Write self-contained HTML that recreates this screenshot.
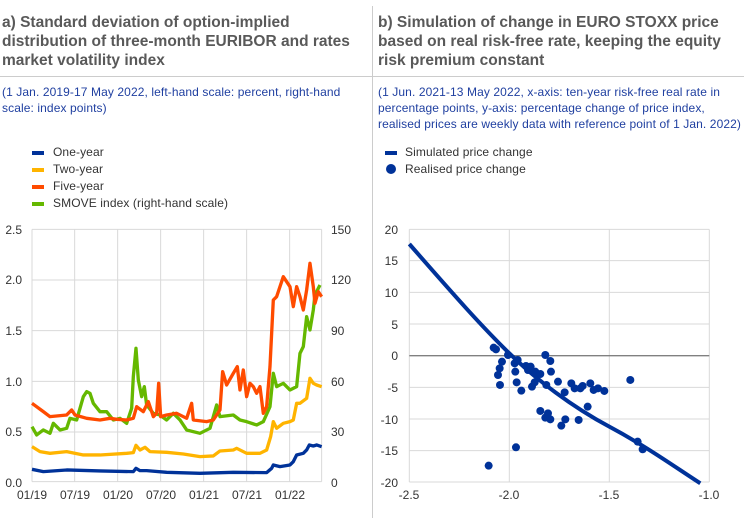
<!DOCTYPE html>
<html><head><meta charset="utf-8"><style>
body{margin:0;width:744px;height:518px;background:#fff;font-family:"Liberation Sans",sans-serif;overflow:hidden;position:relative}
.t{position:absolute;font-weight:bold;font-size:15.5px;line-height:19px;color:#595959}
.s{position:absolute;font-size:12px;line-height:16px;color:#1f3fa0;letter-spacing:0.1px;white-space:nowrap}
.lg{position:absolute;font-size:12px;color:#333;letter-spacing:0.1px}
.sw{position:absolute;width:12px;height:4px}
</style></head><body>
<div class="t" style="left:2px;top:13px;width:370px">a) Standard deviation of option-implied distribution of three-month EURIBOR and rates market volatility index</div>
<div class="t" style="left:378px;top:13px;width:366px">b) Simulation of change in EURO STOXX price based on real risk-free rate, keeping the equity risk premium constant</div>
<div style="position:absolute;left:0;top:76px;width:744px;height:1px;background:#ccc"></div>
<div style="position:absolute;left:372px;top:6px;width:1px;height:512px;background:#ccc"></div>
<div class="s" style="left:2px;top:84px">(1 Jan. 2019-17 May 2022, left-hand scale: percent, right-hand<br>scale: index points)</div>
<div class="s" style="left:378px;top:84px">(1 Jun. 2021-13 May 2022, x-axis: ten-year risk-free real rate in<br>percentage points, y-axis: percentage change of price index,<br>realised prices are weekly data with reference point of 1 Jan. 2022)</div>
<div class="sw" style="left:32px;top:151px;background:#003299"></div><div class="lg" style="left:53px;top:145px">One-year</div>
<div class="sw" style="left:32px;top:168px;background:#ffb400"></div><div class="lg" style="left:53px;top:162px">Two-year</div>
<div class="sw" style="left:32px;top:185px;background:#ff4b00"></div><div class="lg" style="left:53px;top:179px">Five-year</div>
<div class="sw" style="left:32px;top:202px;background:#65b800"></div><div class="lg" style="left:53px;top:196px">SMOVE index (right-hand scale)</div>
<div class="sw" style="left:385px;top:151px;background:#003299"></div><div class="lg" style="left:405px;top:145px">Simulated price change</div>
<div style="position:absolute;left:386px;top:164px;width:10px;height:10px;border-radius:50%;background:#003299"></div><div class="lg" style="left:405px;top:162px">Realised price change</div>
<svg width="744" height="518" style="position:absolute;left:0;top:0" font-family="Liberation Sans, sans-serif" font-size="12" fill="#333">
<g transform="translate(0,220) scale(0.3333)" fill="none">
<g stroke="#d9d9d9" stroke-width="3">
<path d="M96 28H965M96 180H965M96 332H965M96 484H965M96 636H965M96 785H965M96 28V785M224 28V785M353 28V785M482 28V785M611 28V785M740 28V785M869 28V785M965 28V785"/>
</g>
<g stroke-width="10" stroke-linejoin="round">
<polyline stroke="#65b800" points="96,620 110,645 130,630 150,640 160,610 180,630 200,625 210,595 230,600 250,530 260,515 270,520 280,550 300,575 320,575 340,600 360,595 380,610 395,565 400,470 408,385 415,480 425,530 433,500 440,555 460,580 480,585 500,600 520,580 540,600 560,630 600,640 630,625 650,555 660,590 700,585 720,600 740,605 770,615 790,605 810,560 820,460 830,500 850,490 870,510 890,500 900,400 910,380 920,290 930,330 940,270 945,225 960,195"/>
<polyline stroke="#ff4b00" points="96,550 130,575 150,590 200,585 215,570 225,585 260,595 300,600 330,595 350,598 380,600 400,595 410,560 430,575 445,545 460,590 470,580 476,490 482,590 500,585 530,580 560,595 575,550 580,600 620,605 640,600 660,570 668,455 680,495 700,460 712,440 720,510 730,450 740,530 750,490 760,500 770,520 780,500 790,580 800,560 810,440 820,240 830,230 840,200 850,170 860,185 870,200 880,260 890,200 900,230 910,270 920,210 930,130 940,200 945,250 955,215 965,230"/>
<polyline stroke="#ffb400" points="96,680 120,695 150,700 200,695 250,705 300,705 380,700 400,698 408,676 420,690 435,682 450,695 500,697 550,702 600,710 640,708 660,693 700,690 710,685 740,700 780,700 800,690 812,650 820,605 830,625 850,610 870,605 880,600 890,550 900,550 920,535 930,475 940,490 950,495 965,500"/>
<polyline stroke="#003299" points="96,748 130,755 200,750 300,753 400,755 408,745 420,752 440,752 500,757 600,760 700,757 800,758 815,745 820,735 840,740 870,735 880,725 890,705 910,700 920,690 928,675 940,678 950,675 965,680"/>
</g>
</g>
<g text-anchor="end"><text x="22" y="234">2.5</text><text x="22" y="284">2.0</text><text x="22" y="335">1.5</text><text x="22" y="386">1.0</text><text x="22" y="436">0.5</text><text x="22" y="487">0.0</text></g>
<g><text x="331" y="234">150</text><text x="331" y="284">120</text><text x="331" y="335">90</text><text x="331" y="386">60</text><text x="331" y="436">30</text><text x="331" y="487">0</text></g>
<g text-anchor="middle"><text x="32" y="499">01/19</text><text x="75" y="499">07/19</text><text x="118" y="499">01/20</text><text x="161" y="499">07/20</text><text x="204" y="499">01/21</text><text x="247" y="499">07/21</text><text x="290" y="499">01/22</text></g>
<g transform="translate(372,220) scale(0.3333)">
<g stroke="#d9d9d9" stroke-width="3" fill="none">
<path d="M112 28H1012M112 122H1012M112 217H1012M112 312H1012M112 502H1012M112 597H1012M112 692H1012M112 786H1012M112 28V786M412 28V786M712 28V786M1012 28V786"/>
</g>
<path d="M112 407H1012" stroke="#808080" stroke-width="4"/>
<path d="M112 72 C250 230 330 320 412 400 S600 560 712 620 S900 735 985 790" stroke="#003299" stroke-width="12" fill="none"/>
<g fill="#003299">
<circle cx="365" cy="383" r="12"/><circle cx="372" cy="388" r="12"/><circle cx="350" cy="737" r="12"/><circle cx="432" cy="682" r="12"/><circle cx="408" cy="405" r="12"/><circle cx="390" cy="425" r="12"/><circle cx="383" cy="445" r="12"/><circle cx="378" cy="465" r="12"/><circle cx="384" cy="495" r="12"/><circle cx="428" cy="430" r="12"/><circle cx="430" cy="455" r="12"/><circle cx="434" cy="487" r="12"/><circle cx="448" cy="512" r="12"/><circle cx="437" cy="420" r="12"/><circle cx="462" cy="438" r="12"/><circle cx="468" cy="450" r="12"/><circle cx="476" cy="440" r="12"/><circle cx="480" cy="500" r="12"/><circle cx="488" cy="487" r="12"/><circle cx="490" cy="455" r="12"/><circle cx="505" cy="462" r="12"/><circle cx="520" cy="405" r="12"/><circle cx="535" cy="423" r="12"/><circle cx="537" cy="455" r="12"/><circle cx="523" cy="495" r="12"/><circle cx="558" cy="485" r="12"/><circle cx="578" cy="517" r="12"/><circle cx="505" cy="573" r="12"/><circle cx="520" cy="593" r="12"/><circle cx="528" cy="580" r="12"/><circle cx="535" cy="598" r="12"/><circle cx="568" cy="617" r="12"/><circle cx="580" cy="598" r="12"/><circle cx="598" cy="490" r="12"/><circle cx="608" cy="505" r="12"/><circle cx="625" cy="505" r="12"/><circle cx="632" cy="498" r="12"/><circle cx="655" cy="490" r="12"/><circle cx="665" cy="510" r="12"/><circle cx="678" cy="505" r="12"/><circle cx="697" cy="513" r="12"/><circle cx="647" cy="560" r="12"/><circle cx="620" cy="600" r="12"/><circle cx="775" cy="480" r="12"/><circle cx="797" cy="665" r="12"/><circle cx="812" cy="688" r="12"/>
</g>
</g>
<g text-anchor="end"><text x="398" y="234">20</text><text x="398" y="265">15</text><text x="398" y="297">10</text><text x="398" y="329">5</text><text x="398" y="360">0</text><text x="398" y="392">-5</text><text x="398" y="424">-10</text><text x="398" y="455">-15</text><text x="398" y="487">-20</text></g>
<g text-anchor="middle"><text x="409" y="499">-2.5</text><text x="509" y="499">-2.0</text><text x="609" y="499">-1.5</text><text x="709" y="499">-1.0</text></g>
</svg>
</body></html>
